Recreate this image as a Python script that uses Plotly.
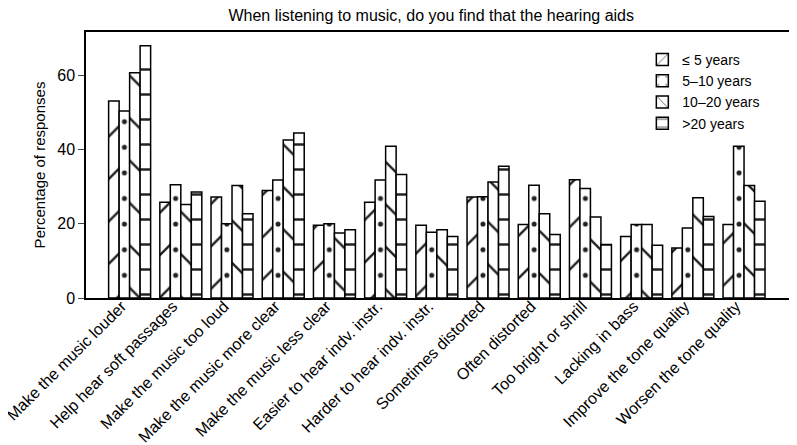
import plotly.graph_objects as go

categories = [
    "Make the music louder", "Help hear soft passages", "Make the music too loud",
    "Make the music more clear", "Make the music less clear", "Easier to hear indv. instr.",
    "Harder to hear indv. instr.", "Sometimes distorted", "Often distorted",
    "Too bright or shrill", "Lacking in bass", "Improve the tone quality",
    "Worsen the tone quality",
]
series_names = ["≤ 5 years", "5–10 years", "10–20 years", ">20 years"]
le5 = [53.1, 25.8, 27.2, 29.0, 19.6, 25.8, 19.6, 27.2, 19.8, 31.9, 16.6, 13.5, 19.8]
y5_10 = [50.4, 30.5, 20.0, 31.8, 20.0, 31.8, 17.7, 27.3, 30.4, 29.5, 19.8, 18.9, 40.9]
y10_20 = [60.7, 25.2, 30.3, 42.6, 17.5, 40.9, 18.4, 31.3, 22.7, 21.8, 19.8, 27.0, 30.3]
gt20 = [68.0, 28.6, 22.7, 44.5, 18.4, 33.3, 16.6, 35.5, 17.1, 14.4, 14.2, 22.0, 26.1]

series = [le5, y5_10, y10_20, gt20]
patterns = [
    dict(shape="/", size=30, solidity=0.08, fgcolor="#222", bgcolor="white", fillmode="replace"),
    dict(shape=".", size=25.61, solidity=0.03, fgcolor="#222", bgcolor="white", fillmode="replace"),
    dict(shape="\\", size=30, solidity=0.08, fgcolor="#222", bgcolor="white", fillmode="replace"),
    dict(shape="-", size=25, solidity=0.1, fgcolor="#222", bgcolor="white", fillmode="replace"),
]

x_idx = list(range(len(categories)))
fig = go.Figure()
for name, vals, pat in zip(series_names, series, patterns):
    fig.add_trace(go.Bar(
        x=x_idx, y=vals, name=name,
        marker=dict(color="white", line=dict(color="black", width=1.5), pattern=pat),
    ))

fig.update_layout(
    width=797, height=445,
    margin=dict(l=78, r=3, t=24, b=155),
    paper_bgcolor="white", plot_bgcolor="white",
    barmode="group", bargap=0.18, bargroupgap=0,
    font=dict(family="Liberation Sans, Arial, sans-serif", size=14, color="black"),
    title=dict(text="When listening to music, do you find that the hearing aids",
               x=0.531, xanchor="center", yref="container", y=1.0, yanchor="top",
               pad=dict(t=2, b=0, l=0, r=0), font=dict(size=16)),
    legend=dict(x=0.777, y=0.955, xanchor="left", yanchor="top",
                bgcolor="rgba(0,0,0,0)", font=dict(size=14),
                itemwidth=30, tracegroupgap=0),
    showlegend=True,
)
fig.update_xaxes(
    range=[-0.852, 13.132], tickmode="array", tickvals=x_idx, ticktext=categories,
    tickangle=-45, ticks="", showgrid=False, zeroline=False, automargin=False,
    showline=True, linecolor="black", linewidth=1.5, mirror=True,
    tickfont=dict(size=16), ticklabeloverflow="allow",
    ticklabelstandoff=-9, ticklabelshift=-8,
)
fig.update_yaxes(
    range=[0, 71.7], tickvals=[0, 20, 40, 60], ticks="outside", ticklen=6,
    showgrid=False, zeroline=False, showline=True, linecolor="black", linewidth=1.5,
    mirror="ticks", automargin=False,
    title=dict(text="Percentage of responses", font=dict(size=15), standoff=8),
    tickfont=dict(size=16),
)
fig.write_html("out.html")
